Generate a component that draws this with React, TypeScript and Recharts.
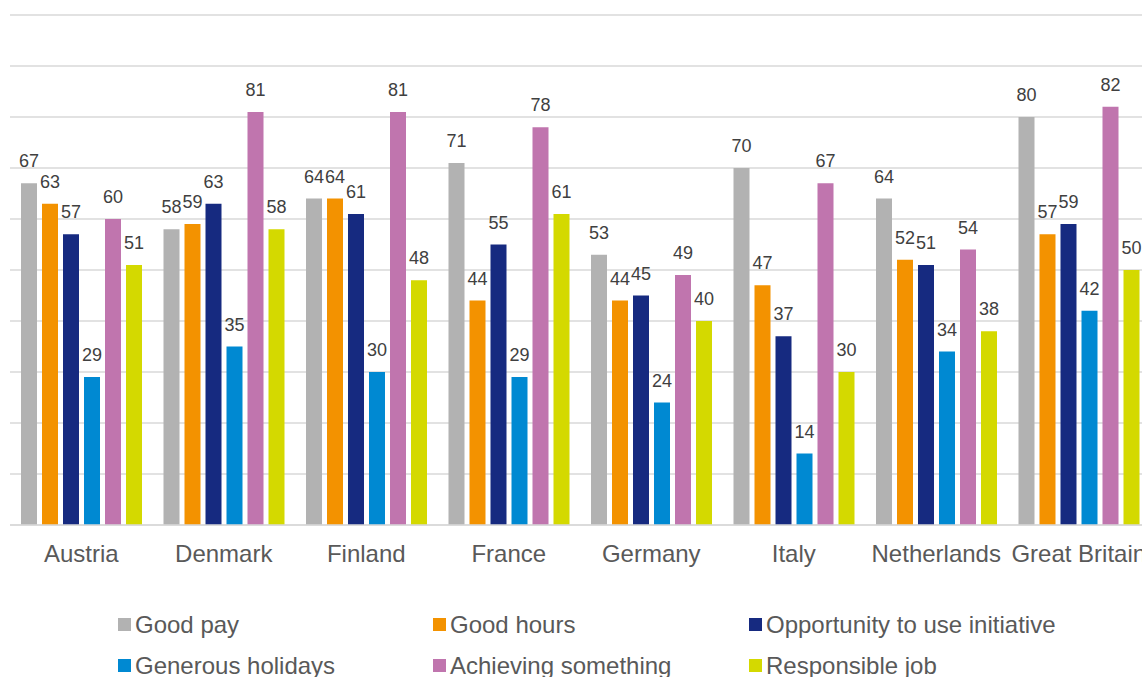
import { useEffect } from 'react'
import { BarChart, Bar, XAxis, YAxis, CartesianGrid, Legend, LabelList } from 'recharts'

const countries = ['Austria', 'Denmark', 'Finland', 'France', 'Germany', 'Italy', 'Netherlands', 'Great Britain']

const goodPay = [67, 58, 64, 71, 53, 70, 64, 80]
const goodHours = [63, 59, 64, 44, 44, 47, 52, 57]
const initiative = [57, 63, 61, 55, 45, 37, 51, 59]
const holidays = [29, 35, 30, 29, 24, 14, 34, 42]
const achieving = [60, 81, 81, 78, 49, 67, 54, 82]
const responsible = [51, 58, 48, 61, 40, 30, 38, 50]

const yTicks = [0, 10, 20, 30, 40, 50, 60, 70, 80, 90, 100]

const SERIES = [
  { key: 'goodPay', name: 'Good pay', values: goodPay, color: '#b2b2b2' },
  { key: 'goodHours', name: 'Good hours', values: goodHours, color: '#f39200' },
  { key: 'initiative', name: 'Opportunity to use initiative', values: initiative, color: '#162a80' },
  { key: 'holidays', name: 'Generous holidays', values: holidays, color: '#0089d2' },
  { key: 'achieving', name: 'Achieving something', values: achieving, color: '#c075ae' },
  { key: 'responsible', name: 'Responsible job', values: responsible, color: '#d4d900' },
]

const data = countries.map((country, i) => {
  const row: Record<string, string | number> = { country }
  for (const s of SERIES) row[s.key] = s.values[i]
  return row
})

const FONT = '"Liberation Sans", Arial, sans-serif'

function LegendGrid({ payload }: { payload?: { value: string; color: string }[] }) {
  // keep series order, not the alphabetical one recharts hands us
  const order = SERIES.map((s) => s.name)
  const items = [...(payload ?? [])].sort((a, b) => order.indexOf(a.value) - order.indexOf(b.value))
  return (
    <div
      style={{
        height: 123,
        boxSizing: 'border-box',
        paddingTop: 29,
        paddingLeft: 108,
        display: 'grid',
        gridTemplateColumns: '315px 316px 320px',
        gridAutoRows: '41px',
        fontFamily: FONT,
        fontSize: 24,
        color: '#595959',
      }}
    >
      {items.map((p) => (
        <div key={p.value} style={{ display: 'flex', alignItems: 'center', whiteSpace: 'nowrap', lineHeight: '41px' }}>
          <span style={{ width: 13, height: 13, background: p.color, marginRight: 4, display: 'inline-block' }} />
          {p.value}
        </div>
      ))}
    </div>
  )
}

export default function App() {
  useEffect(() => {
    document.body.style.margin = '0'
    document.body.style.overflow = 'hidden'
  }, [])

  return (
    <div style={{ width: 1142, height: 677, overflow: 'hidden', paddingTop: 8, paddingLeft: 8, boxSizing: 'border-box' }}>
      <BarChart
        width={1142}
        height={690}
        data={data}
        margin={{ top: 7, right: 0, bottom: 0, left: 2 }}
        barGap={5}
        barSize={16}
      >
        <CartesianGrid vertical={false} stroke="#d9d9d9" strokeWidth={1.5} />
        <YAxis hide domain={[0, 100]} ticks={yTicks} />
        <XAxis
          dataKey="country"
          height={50}
          tickLine={false}
          tickSize={0}
          tickMargin={20}
          axisLine={{ stroke: '#d9d9d9', strokeWidth: 1.5 }}
          tick={{ fill: '#595959', fontSize: 24, fontFamily: FONT }}
          interval={0}
        />
        <Legend verticalAlign="bottom" content={(props: any) => <LegendGrid payload={props.payload} />} />
        {SERIES.map((s) => (
          <Bar key={s.key} dataKey={s.key} name={s.name} fill={s.color} isAnimationActive={false}>
            <LabelList
              dataKey={s.key}
              position="top"
              offset={16}
              fill="#404040"
              fontSize={18}
              fontFamily={FONT}
            />
          </Bar>
        ))}
      </BarChart>
    </div>
  )
}
